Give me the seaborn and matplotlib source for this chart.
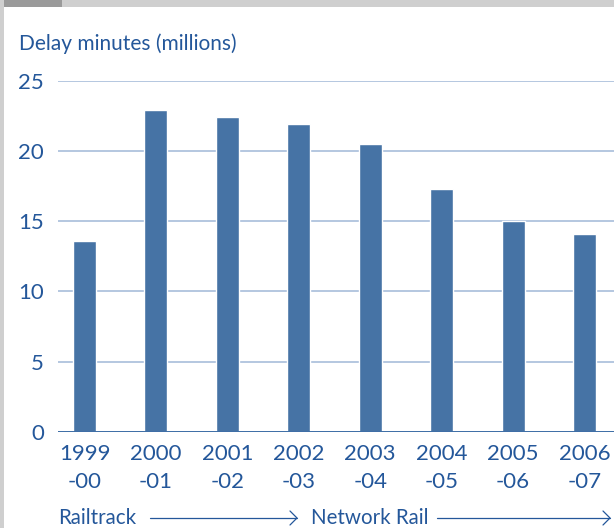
import matplotlib
matplotlib.use("Agg")
import matplotlib.pyplot as plt
import seaborn as sns
import pandas as pd
from matplotlib.patches import Rectangle

# Delay minutes attributed to the infrastructure operator, per financial year
years = ["1999\n-00", "2000\n-01", "2001\n-02", "2002\n-03",
         "2003\n-04", "2004\n-05", "2005\n-06", "2006\n-07"]
delay_minutes = [13.6, 22.9, 22.4, 21.9, 20.5, 17.3, 15.0, 14.1]
y_ticks = [0, 5, 10, 15, 20, 25]

df = pd.DataFrame({"year": years, "delay": delay_minutes})

sns.set_theme(style="white")
plt.rcParams["font.family"] = ["Lato", "DejaVu Sans"]

text_col = "#24579a"
bar_col = "#4673a5"
grid_col = "#afc3dd"
base_col = "#3e6ea6"

fig = plt.figure(figsize=(6.14, 5.28), dpi=100)
fig.patch.set_facecolor("white")

# frame decoration: grey strip on top and left
fig.add_artist(Rectangle((0, 1 - 7 / 528), 1, 7 / 528, transform=fig.transFigure,
                         facecolor="#cfcfcf", edgecolor="none"))
fig.add_artist(Rectangle((0, 1 - 7 / 528), 62 / 614, 7 / 528, transform=fig.transFigure,
                         facecolor="#9a9a9a", edgecolor="none"))
fig.add_artist(Rectangle((0, 0), 4 / 614, 1, transform=fig.transFigure,
                         facecolor="#cfcfcf", edgecolor="none"))

ax = fig.add_axes([58 / 614, 1 - 432 / 528, 1 - 58 / 614, (432 - 80.7) / 528])
sns.barplot(data=df, x="year", y="delay", color=bar_col, saturation=1,
            width=0.322, ax=ax, zorder=3)

ax.set_ylim(0, 25)
ax.set_xlim(-0.371, 7.413)
ax.set_yticks(y_ticks)
ax.yaxis.grid(True, color=grid_col, linewidth=1.3, zorder=0)
ax.axhline(0, color=base_col, linewidth=1.4, zorder=4)
for s in ax.spines.values():
    s.set_visible(False)
ax.set_xlabel("")
ax.set_ylabel("")
ax.tick_params(axis="y", length=0, pad=10, labelsize=16, labelcolor=text_col)
ax.tick_params(axis="x", length=0, pad=9, labelsize=16, labelcolor=text_col)
for lbl in ax.get_xticklabels():
    lbl.set_linespacing(1.45)

fig.text(19 / 614, 1 - 44 / 528, "Delay minutes (millions)", color=text_col,
         fontsize=15, va="center", ha="left")

# ownership timeline beneath the axis
yb = 1 - 518 / 528
fig.text(58 / 614, yb, "Railtrack", color=text_col, fontsize=14.8,
         va="center", ha="left")
fig.text(311 / 614, yb, "Network Rail", color=text_col, fontsize=14.8,
         va="center", ha="left")
for x0, x1 in [(150, 297), (437, 610)]:
    fig.add_artist(plt.Line2D([x0 / 614, x1 / 614], [yb, yb], transform=fig.transFigure,
                              color=text_col, linewidth=0.9))
    fig.add_artist(plt.Line2D([(x1 - 7) / 614, x1 / 614, (x1 - 7) / 614],
                              [yb + 7 / 528, yb, yb - 7 / 528], transform=fig.transFigure,
                              color=text_col, linewidth=0.9))

fig.savefig("out.png", dpi=100)
